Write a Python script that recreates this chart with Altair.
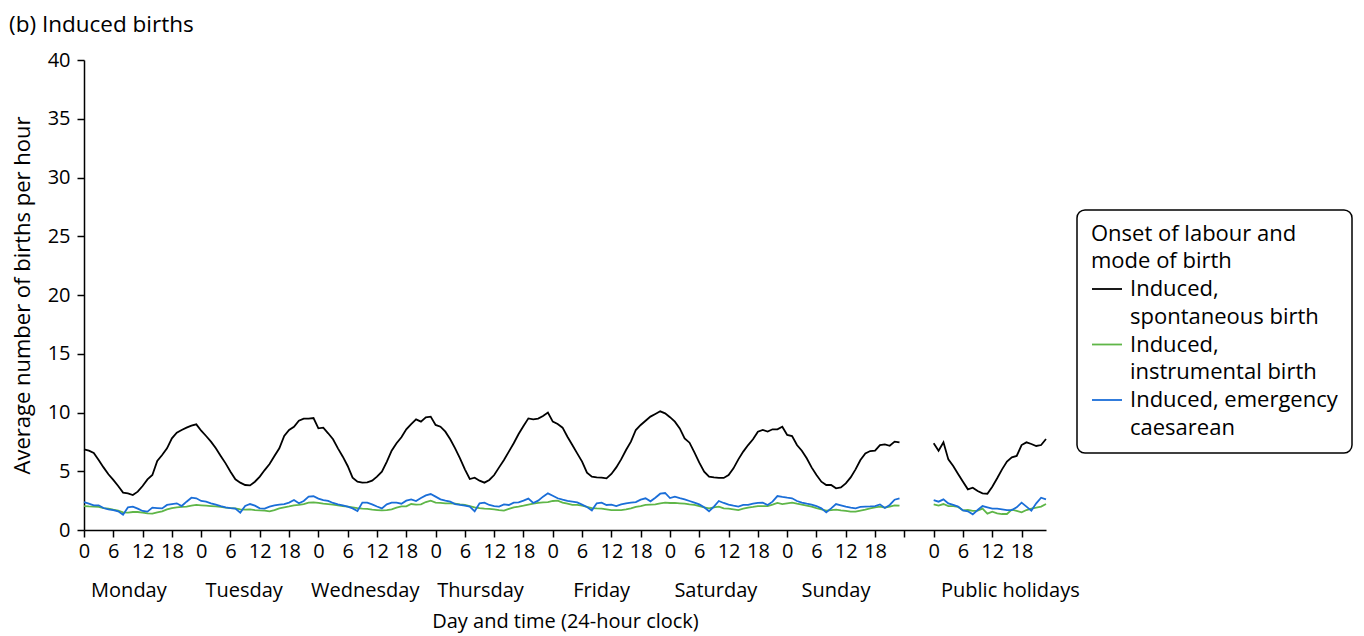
import altair as alt
import pandas as pd

FONT = "Open Sans"

days = ["Monday", "Tuesday", "Wednesday", "Thursday", "Friday", "Saturday", "Sunday", "Public holidays"]
day_start = [0, 24, 48, 72, 96, 120, 144, 174]
day_segment = ["week", "week", "week", "week", "week", "week", "week", "holiday"]
day_label_x = [9.2, 32.8, 57.6, 81.2, 106.0, 129.4, 154.0, 189.7]

series = ["Induced, spontaneous birth", "Induced, instrumental birth", "Induced, emergency caesarean"]
series_colors = ["#000000", "#5fb648", "#1a6ed8"]

tick_values = list(range(0, 169, 6)) + [174, 180, 186, 192]
y_ticks = list(range(0, 41, 5))

spontaneous = [
    [6.87, 6.75, 6.55, 5.96, 5.33, 4.74, 4.26, 3.74, 3.18, 3.12, 2.98, 3.26, 3.74, 4.31, 4.68, 5.87, 6.38, 6.95, 7.8, 8.28, 8.51, 8.71, 8.88, 8.99],
    [8.45, 8.0, 7.52, 6.95, 6.3, 5.67, 4.96, 4.31, 4.03, 3.83, 3.80, 4.11, 4.54, 5.1, 5.62, 6.3, 6.95, 8.0, 8.51, 8.79, 9.3, 9.48, 9.48, 9.53],
    [8.65, 8.71, 8.23, 7.72, 6.95, 6.24, 5.45, 4.45, 4.11, 4.03, 4.06, 4.2, 4.54, 4.96, 5.8, 6.75, 7.38, 7.89, 8.57, 9.02, 9.42, 9.22, 9.59, 9.65],
    [8.94, 8.79, 8.37, 7.72, 6.95, 6.1, 5.16, 4.34, 4.45, 4.2, 4.03, 4.26, 4.68, 5.33, 5.96, 6.67, 7.38, 8.17, 8.85, 9.5, 9.42, 9.48, 9.7, 9.99],
    [9.22, 9.02, 8.71, 7.94, 7.23, 6.52, 5.82, 4.88, 4.54, 4.48, 4.45, 4.4, 4.77, 5.33, 6.01, 6.81, 7.52, 8.51, 8.94, 9.3, 9.65, 9.87, 10.1, 9.93],
    [9.6, 9.22, 8.65, 7.8, 7.43, 6.6, 5.73, 4.96, 4.54, 4.48, 4.43, 4.43, 4.68, 5.25, 6.01, 6.67, 7.23, 7.72, 8.37, 8.51, 8.37, 8.57, 8.57, 8.79],
    [8.09, 8.0, 7.23, 6.75, 6.1, 5.33, 4.68, 4.11, 3.83, 3.83, 3.55, 3.63, 3.97, 4.48, 5.16, 5.96, 6.52, 6.72, 6.75, 7.23, 7.28, 7.17, 7.52, 7.46],
    [7.38, 6.75, 7.46, 6.01, 5.45, 4.77, 4.11, 3.46, 3.6, 3.32, 3.12, 3.09, 3.69, 4.4, 5.16, 5.82, 6.18, 6.3, 7.23, 7.46, 7.32, 7.15, 7.23, 7.74],
]

instrumental = [
    [2.04, 2.01, 1.99, 1.96, 1.87, 1.82, 1.73, 1.65, 1.5, 1.48, 1.53, 1.53, 1.48, 1.42, 1.39, 1.5, 1.59, 1.76, 1.87, 1.93, 1.96, 1.99, 2.07, 2.13],
    [2.1, 2.07, 2.04, 2.01, 1.96, 1.9, 1.87, 1.84, 1.76, 1.73, 1.76, 1.7, 1.67, 1.65, 1.59, 1.7, 1.84, 1.93, 2.01, 2.1, 2.13, 2.21, 2.33, 2.35],
    [2.3, 2.24, 2.21, 2.16, 2.1, 2.04, 1.99, 1.93, 1.87, 1.82, 1.79, 1.73, 1.7, 1.67, 1.7, 1.76, 1.9, 2.01, 2.01, 2.21, 2.16, 2.18, 2.38, 2.5],
    [2.33, 2.3, 2.27, 2.27, 2.24, 2.18, 2.13, 2.04, 1.93, 1.87, 1.82, 1.79, 1.76, 1.7, 1.65, 1.79, 1.93, 1.99, 2.07, 2.16, 2.24, 2.3, 2.35, 2.38],
    [2.47, 2.5, 2.33, 2.24, 2.13, 2.13, 2.07, 1.96, 1.87, 1.84, 1.82, 1.76, 1.7, 1.7, 1.7, 1.76, 1.84, 1.96, 2.04, 2.13, 2.16, 2.18, 2.27, 2.33],
    [2.3, 2.3, 2.27, 2.24, 2.18, 2.13, 2.04, 1.93, 1.84, 1.93, 1.99, 1.84, 1.82, 1.76, 1.7, 1.82, 1.9, 1.96, 2.04, 2.04, 2.04, 2.16, 2.3, 2.21],
    [2.27, 2.33, 2.24, 2.16, 2.07, 1.99, 1.87, 1.76, 1.65, 1.7, 1.73, 1.67, 1.62, 1.56, 1.56, 1.65, 1.73, 1.84, 1.93, 1.99, 1.9, 1.99, 2.1, 2.07],
    [2.18, 2.07, 2.21, 2.04, 2.04, 1.96, 1.67, 1.7, 1.62, 1.65, 1.82, 1.39, 1.56, 1.42, 1.36, 1.36, 1.73, 1.62, 1.5, 1.7, 1.82, 1.9, 1.99, 2.21],
]

caesarean = [
    [2.38, 2.24, 2.1, 2.1, 1.87, 1.76, 1.7, 1.59, 1.3, 1.93, 1.99, 1.82, 1.62, 1.56, 1.9, 1.87, 1.84, 2.13, 2.21, 2.27, 2.04, 2.41, 2.75, 2.7],
    [2.47, 2.41, 2.27, 2.16, 2.04, 1.93, 1.87, 1.82, 1.48, 2.04, 2.21, 2.07, 1.84, 1.82, 1.99, 2.1, 2.16, 2.21, 2.33, 2.55, 2.27, 2.47, 2.84, 2.87],
    [2.67, 2.55, 2.47, 2.3, 2.18, 2.1, 1.99, 1.84, 1.62, 2.33, 2.33, 2.18, 2.0, 1.84, 2.18, 2.33, 2.33, 2.24, 2.5, 2.61, 2.47, 2.72, 2.95, 3.06],
    [2.84, 2.61, 2.5, 2.41, 2.21, 2.13, 2.07, 1.99, 1.59, 2.27, 2.33, 2.13, 2.04, 1.99, 2.18, 2.13, 2.33, 2.35, 2.5, 2.67, 2.3, 2.5, 2.84, 3.12],
    [2.92, 2.7, 2.58, 2.47, 2.41, 2.35, 2.16, 1.96, 1.67, 2.27, 2.33, 2.13, 2.16, 2.04, 2.18, 2.27, 2.33, 2.38, 2.58, 2.7, 2.44, 2.75, 3.09, 3.15],
    [2.72, 2.84, 2.72, 2.61, 2.47, 2.33, 2.18, 1.93, 1.59, 1.99, 2.47, 2.3, 2.16, 2.07, 1.99, 2.13, 2.13, 2.24, 2.3, 2.33, 2.13, 2.41, 2.89, 2.81],
    [2.75, 2.7, 2.47, 2.33, 2.24, 2.16, 2.04, 1.84, 1.5, 1.84, 2.21, 2.1, 1.99, 1.9, 1.84, 1.96, 1.99, 2.01, 2.04, 2.18, 1.87, 2.13, 2.58, 2.7],
    [2.55, 2.41, 2.61, 2.27, 2.13, 1.99, 1.67, 1.59, 1.33, 1.7, 2.04, 1.93, 1.82, 1.82, 1.76, 1.7, 1.7, 1.93, 2.33, 1.99, 1.65, 2.27, 2.75, 2.61],
]

series_values = [spontaneous, instrumental, caesarean]

rows = []
for s_name, s_vals in zip(series, series_values):
    for d, day_vals in enumerate(s_vals):
        for h, v in enumerate(day_vals):
            rows.append({
                "series": s_name,
                "day": days[d],
                "segment": day_segment[d],
                "x": day_start[d] + h,
                "value": v,
            })
df = pd.DataFrame(rows)
labels_df = pd.DataFrame({"day": days, "x": day_label_x})

label_expr = (
    "datum.label == 'Induced, spontaneous birth' ? ['Induced,', 'spontaneous birth'] : "
    "datum.label == 'Induced, instrumental birth' ? ['Induced,', 'instrumental birth'] : "
    "['Induced, emergency', 'caesarean']"
)

x_scale = alt.Scale(domain=[0, 197], nice=False, zero=False)
x_axis = alt.Axis(
    values=tick_values,
    labelExpr="datum.value < 168 ? '' + (datum.value % 24) : (datum.value == 168 ? '' : '' + (datum.value - 174))",
    tickSize=7, labelPadding=4, labelOverlap=False, labelFlush=False,
    title="Day and time (24-hour clock)", titlePadding=50,
)

lines = alt.Chart(df).mark_line(strokeWidth=1.8).encode(
    x=alt.X("x:Q", scale=x_scale, axis=x_axis),
    y=alt.Y("value:Q", scale=alt.Scale(domain=[0, 40], nice=False), axis=alt.Axis(
        values=y_ticks, tickSize=7, labelPadding=7,
        title="Average number of births per hour", titlePadding=13, titleFontSize=22,
    )),
    color=alt.Color("series:N", scale=alt.Scale(domain=series, range=series_colors), legend=alt.Legend(
        orient="none", legendX=993, legendY=150,
        title=["Onset of labour and", "mode of birth"],
        titleFontSize=22, titleFontWeight="normal", titleLineHeight=27, titlePadding=0,
        titleColor="black", titleFont=FONT, titleLimit=400,
        labelExpr=label_expr, labelFontSize=22, labelFont=FONT, labelColor="black",
        labelOffset=7, labelLimit=400,
        symbolType="stroke", symbolSize=900, symbolStrokeWidth=1.8,
    )),
    detail="segment:N",
)

day_text = alt.Chart(labels_df).mark_text(fontSize=20, font=FONT, baseline="middle", color="black").encode(
    x=alt.X("x:Q", scale=x_scale, axis=x_axis),
    y=alt.value(531),
    text="day:N",
)

chart = alt.layer(lines, day_text).properties(
    width=962, height=470,
    autosize=alt.AutoSizeParams(type="none"),
    padding={"left": 76, "top": 52, "right": 310, "bottom": 104},
    title=alt.TitleParams("(b) Induced births", anchor="start", frame="group", dx=-75,
                          fontSize=22.5, fontWeight="normal", font=FONT, color="black", offset=14),
).configure(
    font=FONT,
    style={"guide-label": {"lineHeight": 27.5}},
).configure_view(stroke=None).configure_axis(
    labelFont=FONT, titleFont=FONT, labelFontSize=20, titleFontSize=20,
    titleFontWeight="normal", labelColor="black", titleColor="black",
    domainColor="black", tickColor="black", domainWidth=1.5, tickWidth=1.5, grid=False,
    labelOverlap=False,
).configure_legend(
    rowPadding=0.5, padding=14,
    strokeColor="black", strokeWidth=1.5, cornerRadius=8, fillColor="white",
)

chart.save("out.html", embed_options={"renderer": "svg", "actions": False})
